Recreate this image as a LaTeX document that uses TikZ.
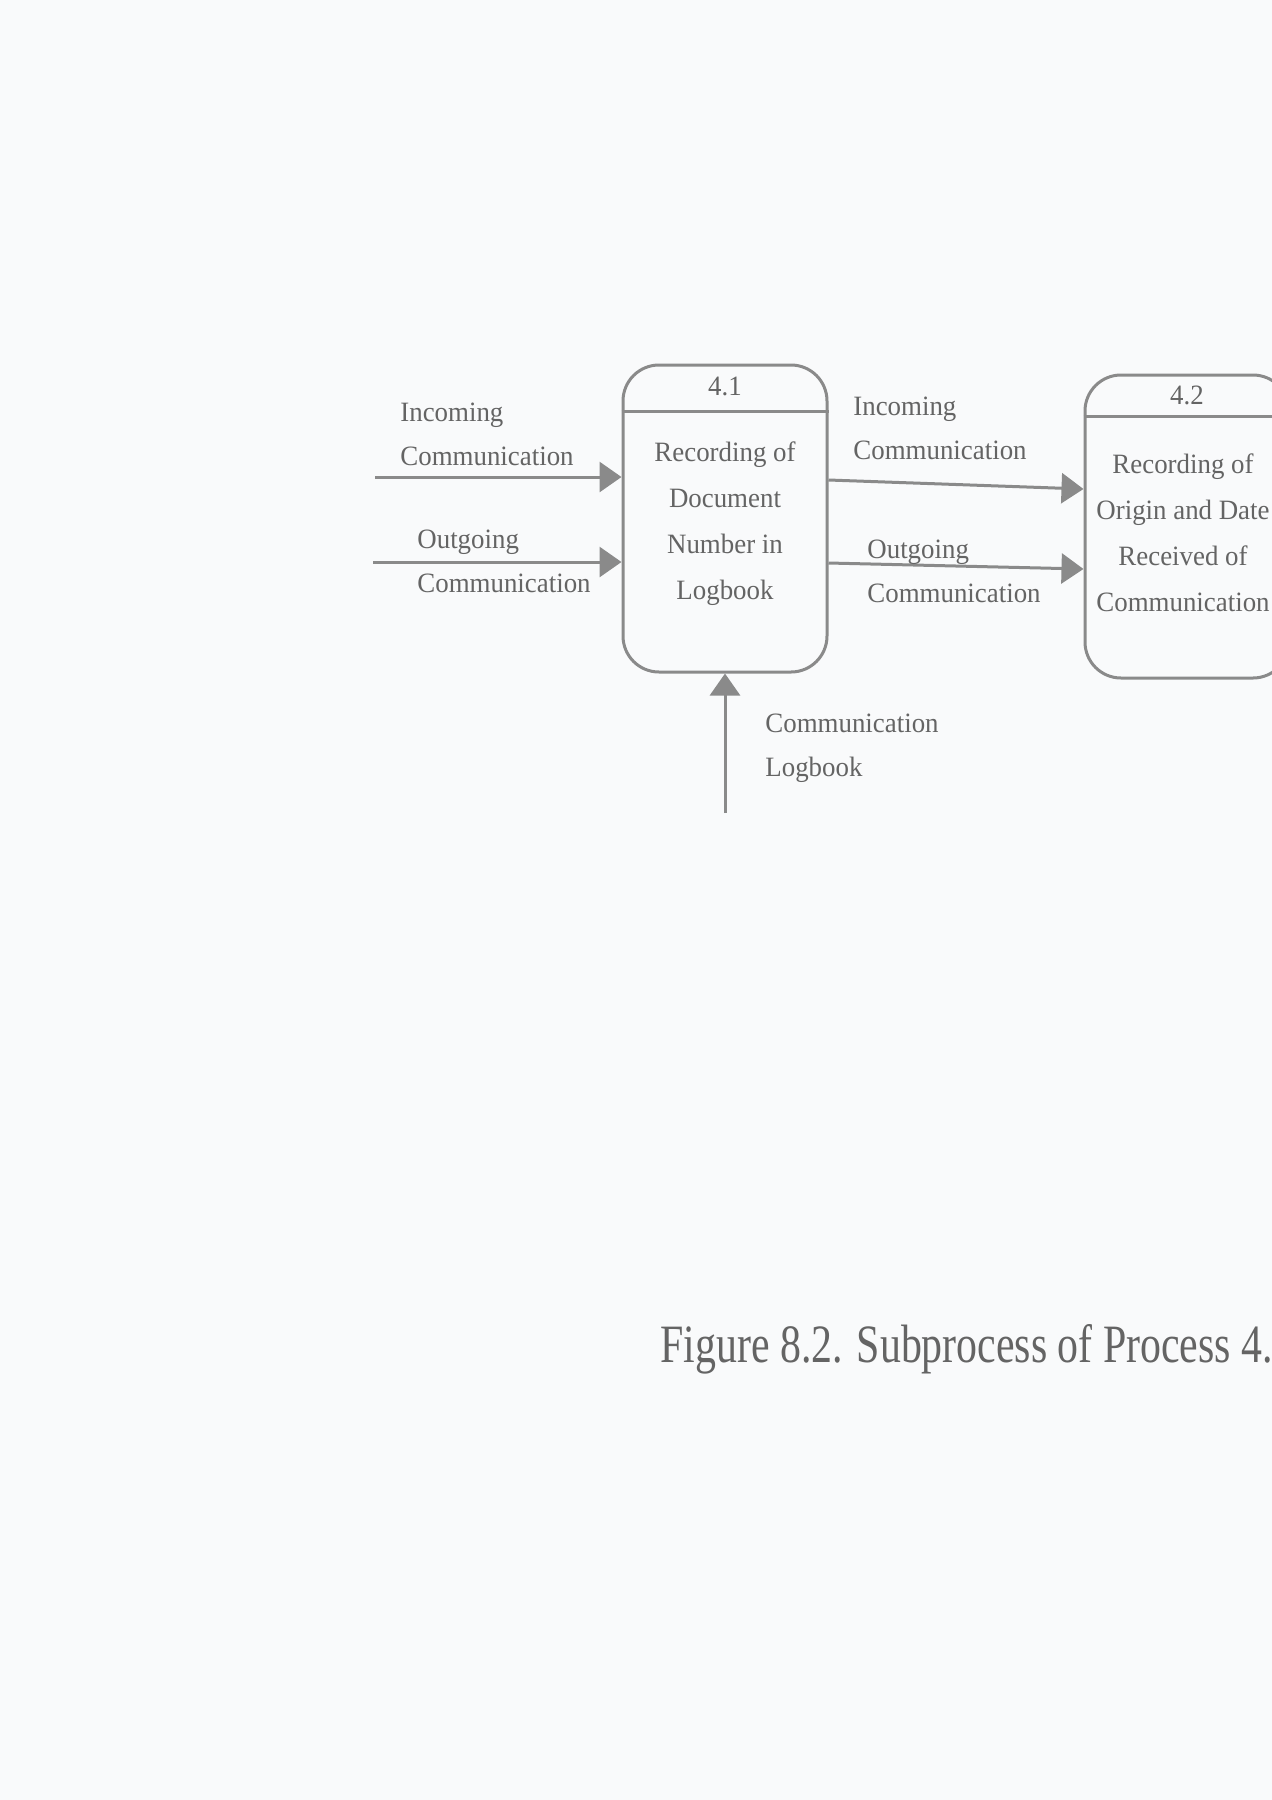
\documentclass[tikz,border=0pt]{standalone}
\usepackage{fontspec}
\setmainfont{Liberation Serif}
\newfontfamily\capfont[FakeStretch=0.775]{Liberation Serif}
\newfontfamily\lblfont[FakeStretch=0.96]{Liberation Serif}
\usetikzlibrary{arrows.meta,calc}
\definecolor{linegray}{HTML}{8A8A8A}
\definecolor{textgray}{HTML}{646464}
\definecolor{paper}{HTML}{F9FAFB}
\tikzset{
  procbox/.style={draw=linegray, line width=1.5pt, rounded corners=18pt, minimum width=102pt, inner sep=0pt},
  divline/.style={draw=linegray, line width=1.5pt},
  flow/.style={draw=linegray, line width=1.5pt, -{Triangle[length=11pt,width=15pt]}},
  boxtext/.style={text=textgray, align=center, font=\lblfont\fontsize{14}{23}\selectfont, inner sep=0pt},
  lbl/.style={text=textgray, align=left, anchor=west, font=\lblfont\fontsize{14}{22}\selectfont, inner sep=0pt},
  captxt/.style={text=textgray, anchor=base west, font=\capfont\fontsize{27}{32}\selectfont, inner sep=0pt}
}
\begin{document}
\begin{tikzpicture}[x=0.5pt,y=-0.5pt]
\fill[paper] (0,0) rectangle (1272,1800);
\useasboundingbox (0,0) rectangle (1272,1800);

% process 4.1
\node[procbox, minimum height=153.5pt] (b41) at (725,518.5) {};
\draw[divline] ($(b41.north west)+(0,48)$) -- ($(b41.north east)+(0,48)$);
\node[boxtext] (t41) at ($(b41.north)+(0,23)$) {4.1};
\node[boxtext] (n41) at (725,524) {Recording of\\Document\\Number in\\Logbook};

% process 4.2
\node[procbox, minimum height=151.5pt] (b42) at (1187,526.5) {};
\draw[divline] ($(b42.north west)+(0,43)$) -- ($(b42.north east)+(0,43)$);
\node[boxtext] (t42) at ($(b42.north)+(0,22)$) {4.2};
\node[boxtext] (n42) at (1183,533) {Recording of\\Origin and Date\\Received of\\Communication};

% inputs to 4.1
\coordinate (inA) at (375,477);
\draw[flow] (inA) -- (inA -| b41.west);
\coordinate (outA) at (373,562);
\draw[flow] (outA) -- (outA -| b41.west);
\node[lbl] (linA) at (400,434) {Incoming\\Communication};
\node[lbl] (loutA) at (417,561) {Outgoing\\Communication};

% 4.1 to 4.2
\coordinate (inB) at (b41.east |- 0,480);
\coordinate (inBe) at (b42.west |- 0,489);
\draw[flow] (inB) -- (inBe);
\coordinate (outB) at (b41.east |- 0,563);
\coordinate (outBe) at (b42.west |- 0,569);
\draw[flow] (outB) -- (outBe);
\node[lbl] (linB) at (853,428) {Incoming\\Communication};
\node[lbl] (loutB) at (867,571) {Outgoing\\Communication};

% logbook input
\coordinate (lb) at (725,813);
\draw[flow] (lb) -- (b41.south);
\node[lbl] (llb) at (765,748) {Communication\\Logbook};

% caption
\node[captxt] (cap) at (660,1362) {Figure 8.2. Subprocess of Process 4.0};
\end{tikzpicture}
\end{document}
